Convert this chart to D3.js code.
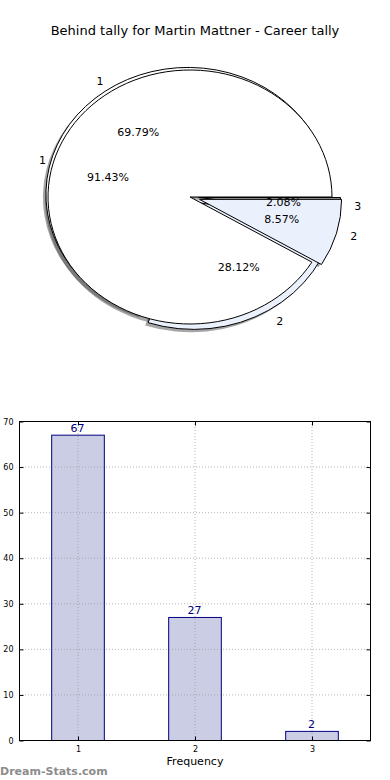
<!DOCTYPE html>
<html><head><meta charset="utf-8">
<script src="https://cdn.jsdelivr.net/npm/d3@7"></script>
<style>body{margin:0;background:#fff;} svg{display:block;font-family:"DejaVu Sans",sans-serif;}</style>
</head><body>
<script>
const title = "Behind tally for Martin Mattner - Career tally";
// Pie A (career counts)
const pieALabels = ["1","2","3"];
const pieAValues = [67,27,2];
const pieAExplode = [0.025,0.05,0.06];
const pieAColors = ["#ffffff","#eaf0fc","#9a9a9a"];
// Pie B
const pieBLabels = ["1","2"];
const pieBValues = [32,3];
const pieBExplode = [0,0.07];
const pieBColors = ["#ffffff","#eaf0fc"];
// Bars
const barCats = [1,2,3];
const barValues = [67,27,2];
const yTicks = [0,10,20,30,40,50,60,70];

const W=390,H=780;
const svg=d3.select("body").append("svg").attr("width",W).attr("height",H);

svg.append("text").attr("x",195).attr("y",35).attr("text-anchor","middle")
  .attr("font-size",13).attr("fill","#000").text(title);

// percent value (e.g. 28.125) -> "28.12%" with round-half-even like printf
function fmtPct(v){
  const s=v*100, f=Math.floor(s), diff=s-f;
  let r;
  if(Math.abs(diff-0.5)<1e-9) r=(f%2===0)?f:f+1; else r=Math.round(s);
  return (r/100).toFixed(2)+"%";
}

// ---- pies ----
const cx=190, cy=197, rx=142, ry=127, sy=ry/rx;
const arc=d3.arc().innerRadius(0).outerRadius(rx);
function slices(values, explode){
  const p=d3.pie().sort(null)(values);
  const tot=d3.sum(values);
  return p.map((d,i)=>{
    const t0=d.startAngle, t1=d.endAngle, mid=(t0+t1)/2;
    return {i, value:d.value, pct:d.value/tot*100,
      a0:Math.PI/2-t1, a1:Math.PI/2-t0, mid,
      ox:explode[i]*rx*Math.cos(mid), oy:-explode[i]*rx*Math.sin(mid)};
  });
}
const A=slices(pieAValues,pieAExplode), B=slices(pieBValues,pieBExplode);
const pieG=svg.append("g").attr("transform",`translate(${cx},${cy}) scale(1,${sy})`);
function pathOf(s){return arc({startAngle:s.a0,endAngle:s.a1});}
// shadows
[...A,...B].forEach(s=>{
  pieG.append("path").attr("d",pathOf(s))
    .attr("transform",`translate(${s.ox-3},${s.oy+3.2})`)
    .attr("fill","#4d4d4d").attr("fill-opacity",0.5);
});
function drawPie(S,colors){
  S.forEach(s=>{
    pieG.append("path").attr("d",pathOf(s))
      .attr("transform",`translate(${s.ox},${s.oy})`)
      .attr("fill",colors[s.i]).attr("stroke","#000").attr("stroke-width",1)
      .attr("stroke-linejoin","round")
      .attr("vector-effect","non-scaling-stroke");
  });
}
drawPie(A,pieAColors);
drawPie(B,pieBColors);
function labels(S,names){
  S.forEach(s=>{
    const c=Math.cos(s.mid), sn=Math.sin(s.mid);
    const bx=cx+s.ox, by=cy+s.oy*sy;
    const lx=bx+1.1*rx*c, ly=by-1.1*ry*sn;
    svg.append("text").attr("x",lx+(c>0?0:3)).attr("y",ly).attr("dy","0.35em")
      .attr("text-anchor",c>0?"start":"middle").attr("font-size",11).text(names[s.i]);
    const px=bx+0.6*rx*c, py=by-0.6*ry*sn;
    svg.append("text").attr("x",px).attr("y",py).attr("dy","0.35em")
      .attr("text-anchor","middle").attr("font-size",11).text(fmtPct(s.pct));
  });
}
labels(A,pieALabels);
labels(B,pieBLabels);

// ---- bar chart ----
const L=19,R=370,T=421,Bt=740;
const x=d3.scaleLinear().domain([0.5,3.5]).range([L,R]);
const y=d3.scaleLinear().domain([0,70]).range([Bt,T]);
const bw=x(1.45)-x(1);
const g=svg.append("g");
// bars
g.selectAll(".bar").data(barValues).enter().append("rect")
  .attr("x",(d,i)=>x(barCats[i])-bw/2+0.5).attr("width",bw)
  .attr("y",d=>y(d)+0.5).attr("height",d=>y(0)-y(d))
  .attr("fill","#cbcde4").attr("stroke","#000080").attr("stroke-width",1);
// grid (drawn over the bars)
g.selectAll(".hg").data(yTicks).enter().append("line")
  .attr("x1",L).attr("x2",R).attr("y1",d=>y(d)+0.5).attr("y2",d=>y(d)+0.5)
  .attr("stroke","#999").attr("stroke-opacity",0.7).attr("stroke-width",1).attr("stroke-dasharray","1,2");
g.selectAll(".vg").data(barCats).enter().append("line")
  .attr("y1",T).attr("y2",Bt).attr("x1",d=>x(d)+0.5).attr("x2",d=>x(d)+0.5)
  .attr("stroke","#999").attr("stroke-opacity",0.7).attr("stroke-width",1).attr("stroke-dasharray","1,2");
g.selectAll(".vl").data(barValues).enter().append("text")
  .attr("x",(d,i)=>x(barCats[i])).attr("y",d=>y(d)-3)
  .attr("text-anchor","middle").attr("font-size",11).attr("fill","#000080").text(d=>d);
// frame
g.append("rect").attr("x",L+0.5).attr("y",T+0.5).attr("width",R-L).attr("height",Bt-T)
  .attr("fill","none").attr("stroke","#000").attr("stroke-width",1);
// axes
const ya=d3.axisLeft(y).tickValues(yTicks).tickSizeInner(-4).tickSizeOuter(0).tickPadding(6);
svg.append("g").attr("transform",`translate(${L+0.5},0.5)`).call(ya);
const ya2=d3.axisRight(y).tickValues(yTicks).tickSizeInner(-4).tickSizeOuter(0).tickFormat("");
svg.append("g").attr("transform",`translate(${R+0.5},0.5)`).call(ya2);
const xa=d3.axisBottom(x).tickValues(barCats).tickSizeInner(-4).tickSizeOuter(0).tickPadding(6).tickFormat(d3.format("d"));
svg.append("g").attr("transform",`translate(0.5,${Bt+0.5})`).call(xa);
const xa2=d3.axisTop(x).tickValues(barCats).tickSizeInner(-4).tickSizeOuter(0).tickFormat("");
svg.append("g").attr("transform",`translate(0.5,${T+0.5})`).call(xa2);
svg.selectAll(".domain").remove();
svg.selectAll(".tick text").attr("font-size",8).attr("font-family","DejaVu Sans").attr("fill","#000");
svg.selectAll(".tick line").attr("stroke","#000");
svg.append("text").attr("x",195).attr("y",765).attr("text-anchor","middle").attr("font-size",11).text("Frequency");
svg.append("text").attr("x",0).attr("y",775).attr("font-size",11).attr("font-weight","bold")
  .attr("fill","#8c8c8c").text("Dream-Stats.com");
</script>
</body></html>
